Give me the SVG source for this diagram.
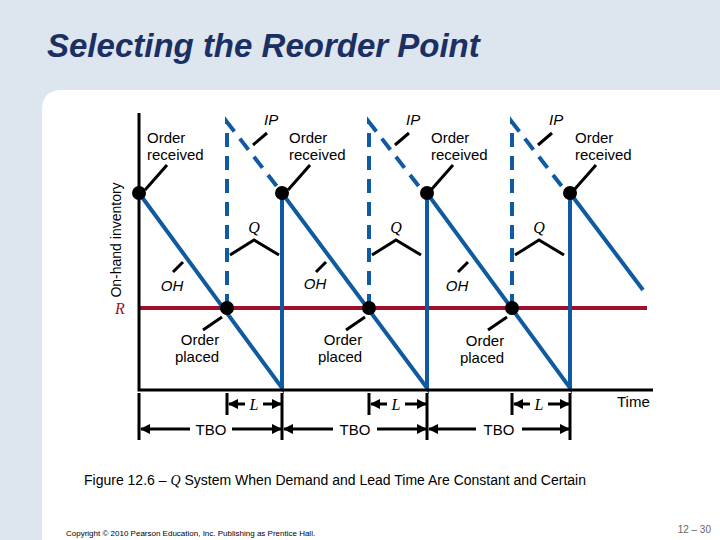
<svg xmlns="http://www.w3.org/2000/svg" width="720" height="540" viewBox="0 0 720 540">
<defs>
<marker id="ah" viewBox="0 0 10 10" refX="9" refY="5" markerWidth="3.5" markerHeight="3.5" orient="auto"><path d="M0,0L10,5L0,10z" fill="#000"/></marker>
</defs>
<style>
.t{font-family:"Liberation Sans",Arial,sans-serif;font-size:15px;fill:#000}
.i{font-style:italic}
.q{font-family:"Liberation Serif",serif;font-style:italic;font-size:16px}
.b{stroke:#0f5aa0;stroke-width:4;fill:none}
.d{stroke:#0f5aa0;stroke-width:4;fill:none;stroke-dasharray:14,9}
.k{stroke:#000;stroke-width:3;fill:none}
.ar{stroke:#000;stroke-width:3;fill:none;marker-end:url(#ah)}
</style>
<rect width="720" height="540" fill="#dde6ee"/>
<path d="M42,110 Q42,90 62,90 H720 V540 H42 Z" fill="#fff"/>
<text x="47" y="57" font-family="Liberation Sans,Arial,sans-serif" font-size="33" font-weight="bold" font-style="italic" fill="#1b2f63">Selecting the Reorder Point</text>
<text transform="translate(121,240) rotate(-90)" class="t" text-anchor="middle" style="font-size:14px">On-hand inventory</text>
<g id="connectors">
<line x1="647" y1="308" x2="140" y2="308" stroke="#a0102a" stroke-width="4"/>
<polyline class="b" points="139,193 282,388 282,193 427,388 427,193 570,388 570,193 643,290"/>
<path class="d" d="M227,308V122L282,193M369,308V122L424,193M512,308V122L567,193"/>
<path class="k" d="M139,113V390H653"/>
<path class="k" d="M139,393V440M282,393V440M427,393V440M570,393V440M227,393V415M369,393V415M512,393V415"/>
<path class="ar" d="M245,404H229"/><path class="ar" d="M263,404H281"/>
<path class="ar" d="M387,404H371"/><path class="ar" d="M405,404H426"/>
<path class="ar" d="M530,404H514"/><path class="ar" d="M548,404H569"/>
<path class="ar" d="M190,429H141"/><path class="ar" d="M232,429H281"/>
<path class="ar" d="M333,429H284"/><path class="ar" d="M377,429H426"/>
<path class="ar" d="M476,429H429"/><path class="ar" d="M522,429H569"/>
<path class="k" d="M145,190L167,165M288,190L310,165M431,190L453,165M574,190L596,165"/>
<path class="k" d="M173,272L183,262M316,272L326,262M458,272L468,262"/>
<path class="k" d="M203,330L222,317M346,330L365,317M488,330L507,317"/>
<path class="k" d="M253,145L267,133M395,145L409,133M538,145L552,133"/>
<path class="k" d="M230,255L254,240L279,255M372,255L396,240L421,255M515,255L539,240L564,255"/>
</g>
<g id="dots" fill="#000">
<circle cx="139" cy="193" r="7"/><circle cx="282" cy="193" r="7"/><circle cx="427" cy="193" r="7"/><circle cx="570" cy="193" r="7"/>
<circle cx="227" cy="308" r="7"/><circle cx="369" cy="308" r="7"/><circle cx="512" cy="308" r="7"/>
</g>
<g id="labels">
<text class="t" x="147" y="143">Order</text><text class="t" x="147" y="160">received</text>
<text class="t" x="289" y="143">Order</text><text class="t" x="289" y="160">received</text>
<text class="t" x="431" y="143">Order</text><text class="t" x="431" y="160">received</text>
<text class="t" x="575" y="143">Order</text><text class="t" x="575" y="160">received</text>
<text class="t i" x="264" y="125">IP</text><text class="t i" x="406" y="125">IP</text><text class="t i" x="549" y="125">IP</text>
<text class="q" x="254" y="233" text-anchor="middle">Q</text><text class="q" x="396" y="233" text-anchor="middle">Q</text><text class="q" x="539" y="233" text-anchor="middle">Q</text>
<text class="t i" x="172" y="291" text-anchor="middle">OH</text><text class="t i" x="315" y="289" text-anchor="middle">OH</text><text class="t i" x="457" y="291" text-anchor="middle">OH</text>
<text class="q" x="120" y="314" fill="#a0102a" text-anchor="middle">R</text>
<text class="t" x="200" y="345" text-anchor="middle">Order</text><text class="t" x="197" y="362" text-anchor="middle">placed</text>
<text class="t" x="343" y="345" text-anchor="middle">Order</text><text class="t" x="340" y="362" text-anchor="middle">placed</text>
<text class="t" x="485" y="346" text-anchor="middle">Order</text><text class="t" x="482" y="363" text-anchor="middle">placed</text>
<text class="q" x="254" y="410" text-anchor="middle">L</text><text class="q" x="396" y="410" text-anchor="middle">L</text><text class="q" x="539" y="410" text-anchor="middle">L</text>
<text class="t" x="211" y="435" text-anchor="middle">TBO</text><text class="t" x="355" y="435" text-anchor="middle">TBO</text><text class="t" x="499" y="435" text-anchor="middle">TBO</text>
<text class="t" x="617" y="407">Time</text>
<text class="t" x="84" y="485" style="font-size:14px">Figure 12.6 – <tspan font-family="Liberation Serif,serif" font-style="italic">Q</tspan> System When Demand and Lead Time Are Constant and Certain</text>
<text class="t" x="66" y="536" style="font-size:8px">Copyright © 2010 Pearson Education, Inc. Publishing as Prentice Hall.</text>
<text class="t" x="711" y="533" style="font-size:10px;fill:#666" text-anchor="end">12 – 30</text>
</g>
</svg>
